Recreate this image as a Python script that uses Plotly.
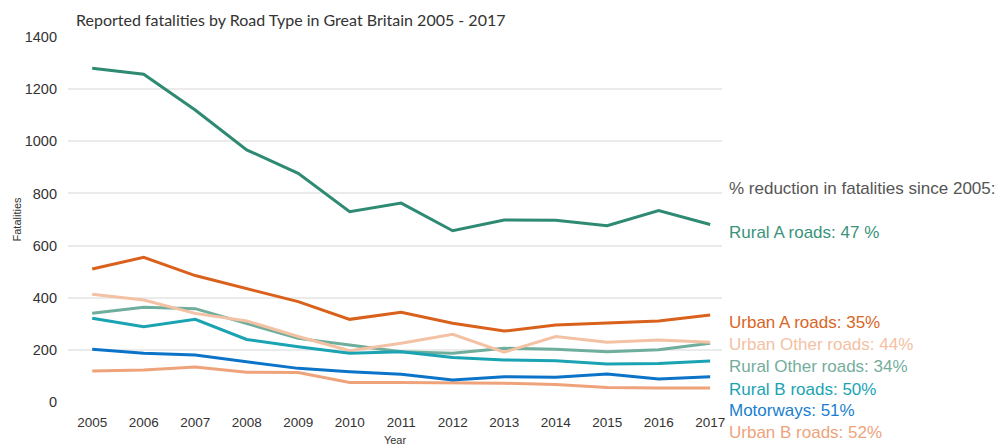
import plotly.graph_objects as go

years = list(range(2005, 2018))

rural_a = [1280, 1257, 1120, 967, 877, 730, 763, 657, 698, 697, 676, 734, 681]
urban_a = [510, 555, 485, 436, 385, 317, 344, 302, 272, 295, 304, 311, 334]
urban_other = [413, 391, 340, 311, 251, 197, 225, 260, 191, 251, 229, 238, 229]
rural_other = [340, 363, 358, 302, 244, 219, 193, 187, 206, 202, 193, 200, 225]
rural_b = [321, 289, 317, 240, 212, 187, 193, 171, 161, 158, 146, 148, 157]
motorways = [202, 187, 180, 155, 129, 116, 106, 84, 97, 95, 107, 88, 97]
urban_b = [119, 123, 134, 114, 113, 75, 75, 74, 72, 67, 56, 54, 54]

series = [
    ("Rural Other roads", rural_other, "#6fae9c"),
    ("Urban Other roads", urban_other, "#f3c1a3"),
    ("Urban B roads", urban_b, "#eea37b"),
    ("Motorways", motorways, "#0b74c8"),
    ("Rural B roads", rural_b, "#1aa3b3"),
    ("Urban A roads", urban_a, "#d9611c"),
    ("Rural A roads", rural_a, "#2e8a72"),
]

labels = [
    ("Rural A roads: 47 %", "#3a937a", 232),
    ("Urban A roads: 35%", "#d9651f", 322),
    ("Urban Other roads: 44%", "#f3c1a3", 344.5),
    ("Rural Other roads: 34%", "#74ad9c", 366.5),
    ("Rural B roads: 50%", "#1aa3b3", 389),
    ("Motorways: 51%", "#1a7fd0", 410.5),
    ("Urban B roads: 52%", "#eea37b", 432.5),
]

fig = go.Figure()
for name, vals, col in series:
    fig.add_trace(go.Scatter(x=years, y=vals, mode="lines", name=name,
                             line=dict(color=col, width=3)))

L, R, T, B = 68, 283, 37, 46
W, H = 1005, 448
pw, ph = W - L - R, H - T - B

def py(p):
    return (H - B - p) / ph

AF = "Liberation Sans, Arial"
annots = [dict(text="% reduction in fatalities since 2005:", x=(727 - L) / pw, y=py(189),
               xref="paper", yref="paper", xanchor="left", yanchor="middle", showarrow=False,
               font=dict(family=AF, size=17, color="#555555"))]
for t, c, p in labels:
    annots.append(dict(text=t, x=(727 - L) / pw, y=py(p), xref="paper", yref="paper",
                       xanchor="left", yanchor="middle", showarrow=False,
                       font=dict(family=AF, size=17, color=c)))

fig.update_layout(
    width=W, height=H,
    margin=dict(l=L, r=R, t=T, b=B),
    paper_bgcolor="white", plot_bgcolor="white",
    showlegend=False,
    title=dict(text="Reported fatalities by Road Type in Great Britain 2005 - 2017",
               x=76 / W, xanchor="left", y=1 - 20 / H, yanchor="middle",
               font=dict(family="Lato, Open Sans", size=16, color="#333333")),
    annotations=annots,
    xaxis=dict(range=[2004.53, 2017.23], tickmode="array", tickvals=years,
               ticktext=[str(y) for y in years], showgrid=False, zeroline=False,
               showline=False, ticks="", ticklabelstandoff=10, automargin=False,
               tickfont=dict(family=AF, size=13.5, color="#333333"),
               title=dict(text="Year", standoff=7,
                          font=dict(family=AF, size=11, color="#333333"))),
    yaxis=dict(range=[0, 1400], dtick=200, showgrid=True, gridcolor="#ebebeb", gridwidth=1.5,
               zeroline=False, showline=False, ticks="", ticklabelstandoff=10, automargin=False,
               tickfont=dict(family=AF, size=14.5, color="#333333"),
               title=dict(text="Fatalities", standoff=0,
                          font=dict(family=AF, size=11, color="#333333"))),
)

fig.write_html("out.html")
